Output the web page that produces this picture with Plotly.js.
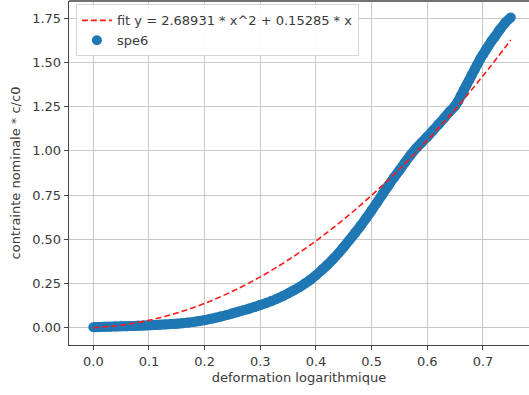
<!DOCTYPE html>
<html>
<head>
<meta charset="utf-8">
<script src="https://cdn.plot.ly/plotly-3.0.1.min.js"></script>
<style>html,body{margin:0;padding:0;background:#fff;}#chart{width:529px;height:395px;}</style>
</head>
<body>
<div id="chart"></div>
<script>
const speX = [0.00,0.01,0.02,0.03,0.04,0.05,0.06,0.07,0.08,0.09,0.10,0.11,0.12,0.13,0.14,0.15,0.16,0.17,0.18,0.19,
  0.20,0.21,0.22,0.23,0.24,0.25,0.26,0.27,0.28,0.29,0.30,0.31,0.32,0.33,0.34,0.35,0.36,0.37,0.38,0.39,
  0.40,0.41,0.42,0.43,0.44,0.45,0.46,0.47,0.48,0.49,0.50,0.51,0.52,0.53,0.54,0.55,0.56,0.57,0.58,0.59,
  0.60,0.61,0.62,0.63,0.64,0.65,0.655,0.66,0.665,0.67,0.675,0.68,0.685,0.69,0.695,0.70,0.705,0.71,0.715,0.72,0.73,0.74,0.75];
const speY = [0.003,0.004,0.005,0.006,0.007,0.008,0.009,0.010,0.011,0.012,0.014,0.015,0.017,0.019,0.021,0.023,0.026,0.029,0.033,0.038,
  0.043,0.050,0.057,0.064,0.072,0.081,0.090,0.099,0.108,0.118,0.128,0.139,0.151,0.164,0.178,0.194,0.211,0.229,0.250,0.272,
  0.297,0.325,0.354,0.386,0.420,0.457,0.496,0.535,0.576,0.619,0.664,0.710,0.757,0.804,0.849,0.891,0.935,0.977,1.015,1.048,
  1.080,1.115,1.150,1.185,1.222,1.255,1.280,1.310,1.340,1.370,1.400,1.430,1.460,1.490,1.520,1.545,1.570,1.595,1.620,1.640,1.685,1.725,1.755];
// fit curve values (y = 2.68931 * x^2 + 0.15285 * x)
const fitX = [0.00,0.05,0.10,0.15,0.20,0.25,0.30,0.35,0.40,0.45,0.50,0.55,0.60,0.65,0.70,0.75];
const fitY = [0.0,0.01437,0.04218,0.08344,0.13814,0.20630,0.28789,0.38294,0.49143,0.61337,0.74875,0.89758,1.05986,1.23559,1.42476,1.62738];
const fitName = "fit y = 2.68931 * x^2 + 0.15285 * x";
const speName = "spe6";
const xTicks = [0.0,0.1,0.2,0.3,0.4,0.5,0.6,0.7];
const xTickText = ["0.0","0.1","0.2","0.3","0.4","0.5","0.6","0.7"];
const yTicks = [0,0.25,0.5,0.75,1.0,1.25,1.5,1.75];
const yTickText = ["0.00","0.25","0.50","0.75","1.00","1.25","1.50","1.75"];

const font = {family: "DejaVu Sans, sans-serif", size: 13, color: "#3a3a3a"};
const blue = "#1f77b4";
const traces = [
  {x: speX, y: speY, type: "scatter", mode: "lines", showlegend: false, hoverinfo: "skip",
   line: {color: blue, width: 10, shape: "spline", smoothing: 0.6}},
  {x: speX, y: speY, type: "scatter", mode: "markers", name: speName,
   marker: {color: blue, size: 10, line: {width: 0}}},
  {x: fitX, y: fitY, type: "scatter", mode: "lines", name: fitName,
   line: {color: "#ff1a1a", width: 1.6, dash: "6px,3px", shape: "spline"}}
];
const layout = {
  width: 529, height: 395,
  margin: {l: 69, r: 0, t: 1, b: 50},
  paper_bgcolor: "#fff", plot_bgcolor: "#fff",
  font: font,
  showlegend: true,
  legend: {x: 0.015, y: 0.99, xanchor: "left", yanchor: "top", traceorder: "reversed",
    bgcolor: "rgba(255,255,255,0.9)", bordercolor: "#d6d6d6", borderwidth: 1,
    font: font, itemwidth: 30, tracegroupgap: 0},
  xaxis: {range: [-0.0437, 0.7827], tickvals: xTicks, ticktext: xTickText,
    showgrid: true, gridcolor: "#c8c8c8", gridwidth: 1, zeroline: false,
    showline: true, linecolor: "#444", linewidth: 1.3, mirror: false,
    ticks: "outside", ticklen: 4, tickcolor: "#444", tickfont: font,
    title: {text: "deformation logarithmique", font: font, standoff: 5}},
  yaxis: {range: [-0.0976, 1.848], tickvals: yTicks, ticktext: yTickText,
    showgrid: true, gridcolor: "#c8c8c8", gridwidth: 1, zeroline: false,
    showline: true, linecolor: "#444", linewidth: 1.3, mirror: false,
    ticks: "outside", ticklen: 4, tickcolor: "#444", tickfont: font,
    title: {text: "contrainte nominale * c/c0", font: font, standoff: 8}},
  shapes: [{type: "line", xref: "paper", yref: "paper", x0: 0, x1: 1, y0: 1, y1: 1,
    line: {color: "#444", width: 1.3}}]
};
Plotly.newPlot("chart", traces, layout, {displayModeBar: false, staticPlot: true});
</script>
</body>
</html>
